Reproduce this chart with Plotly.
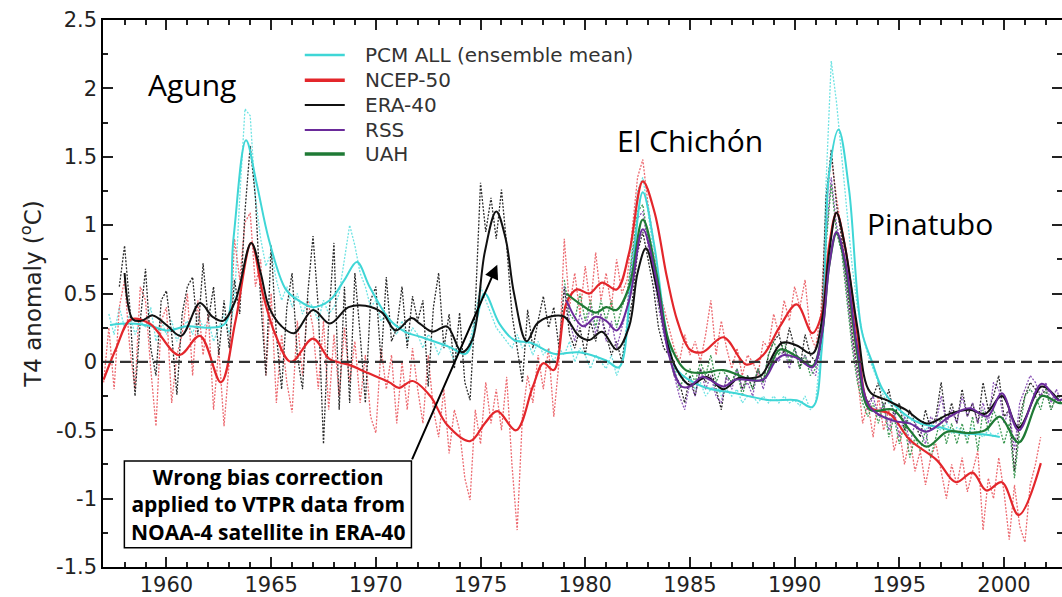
import numpy as np
import plotly.graph_objects as go

# ---------------- data ----------------
# quarterly "raw" series (dotted); time index = start year + quarter steps
era_raw_start = 1957.75
era_raw = [0.55,
    0.85, 0.40, -0.25, 0.30,   0.68, 0.10, -0.10, 0.45,   0.52, 0.20, -0.24, 0.35,
    0.55, 0.62, 0.20, 0.72,    0.30, 0.55, 0.05, 0.45,    0.10, 0.60, 0.35, 1.10,
    1.58, 1.20, 0.45, -0.10,   0.85, 0.20, -0.20, 0.40,   0.65, 0.05, -0.20, 0.50,
    0.92, 0.40, -0.60, 0.30,   0.87, -0.35, 0.55, -0.30,  0.65, 0.20, -0.30, 0.45,
    0.55, 0.00, 0.62, 0.15,    0.25, 0.55, 0.10, 0.48,    0.30, 0.45, -0.18, 0.40,
    0.65, 0.10, 0.35, -0.05,   0.36, -0.15, -0.28, 0.40,  1.31, 0.95, 1.20, 0.90,
    1.26, 0.85, 0.35, 0.10,    -0.15, 0.38, 0.10, 0.30,   0.48, 0.25, 0.40, 0.10,
    0.55, 0.20, 0.10, 0.25,    0.05, 0.30, 0.15, 0.35,    0.20, 0.05, 0.15, 0.00,
    0.25, 0.45, 0.80, 0.95,    0.75, 0.55, 0.25, 0.10,    0.05, -0.10, -0.15, -0.30,
    -0.10, -0.25, -0.05, -0.15, -0.05, -0.20, -0.35, -0.10, -0.15, -0.05, -0.20, -0.10,
    -0.20, -0.05, -0.15, 0.05, 0.15, 0.20, 0.05, 0.25,    0.10, -0.05, 0.20, 0.05,
    0.00, 0.10, 1.20, 1.55,    1.15, 0.90, 0.55, 0.20,    -0.05, -0.20, -0.30, -0.25,
    -0.15, -0.35, -0.20, -0.40, -0.30, -0.50, -0.35, -0.45, -0.55, -0.35, -0.50, -0.40,
    -0.15, -0.45, -0.30, -0.45, -0.20, -0.40, -0.30, -0.45, -0.15, -0.35, -0.25, -0.10,
    -0.40, -0.35, -0.80, -0.40, -0.25, -0.15, -0.20, -0.25, -0.20, -0.35, -0.25]

ncep_raw_start = 1957.0
ncep_raw = [
    -0.15, 0.25, -0.20, 0.40,  0.60, 0.10, -0.20, 0.55,   0.45, -0.05, -0.47, 0.30,
    0.40, -0.30, 0.05, 0.20,   0.50, -0.10, 0.45, 0.05,   0.35, -0.35, 0.10, -0.47,
    0.00, 0.90, 0.60, 1.02,    1.09, 0.55, 0.75, -0.10,   0.50, -0.30, 0.20, -0.15,
    -0.37, 0.30, -0.10, 0.45,  0.25, -0.20, 0.30, -0.35,  0.20, -0.25, 0.25, -0.15,
    0.15, -0.30, 0.05, -0.40,  -0.52, 0.10, -0.20, 0.05,  -0.45, 0.00, -0.35, 0.10,
    -0.20, -0.45, 0.05, -0.35, -0.55, -0.20, -0.67, -0.35, -0.50, -0.85, -1.01, -0.35,
    -0.60, -0.15, -0.45, -0.20, -0.50, -0.11, -0.75, -1.23, -0.40, -0.10, -0.30, 0.05,
    -0.20, 0.10, -0.40, 0.00,  0.90, 0.40, 0.65, 0.35,    0.70, 0.40, 0.80, 0.45,
    0.65, 0.40, 0.75, 0.50,    0.60, 1.00, 1.35, 1.48,    1.15, 0.90, 0.55, 0.40,
    0.25, 0.10, 0.00, 0.20,    0.05, 0.15, 0.00, 0.20,    0.45, 0.05, 0.30, 0.10,
    -0.05, 0.10, -0.10, 0.05,  0.00, -0.10, 0.15, 0.10,   0.35, 0.20, 0.45, 0.30,
    0.55, 0.40, 0.60, 0.20,    0.10, 0.35, 1.10, 1.50,    1.20, 0.95, 0.60, 0.20,
    -0.10, -0.45, -0.30, -0.55, -0.25, -0.50, -0.35, -0.65, -0.50, -0.75, -0.55, -0.80,
    -0.65, -0.90, -0.70, -0.60, -0.80, -1.00, -0.75, -0.90, -0.70, -0.95, -0.80, -0.65,
    -1.23, -0.85, -1.00, -0.70, -0.95, -1.30, -0.90, -1.20, -1.32, -0.90, -0.75, -0.55]

pcm_raw_start = 1957.25
pcm_raw = [0.35, 0.20, 0.40,
    0.25, 0.35, 0.20, 0.30,    0.25, 0.40, 0.15, 0.30,    0.20, 0.30, 0.15, 0.25,
    0.30, 0.20, 0.35, 0.25,    0.30, 0.15, 0.25, 0.35,    0.20, 0.45, 1.20, 1.85,
    1.80, 1.20, 0.90, 0.70,    0.80, 0.60, 0.45, 0.55,    0.40, 0.50, 0.35, 0.45,
    0.40, 0.30, 0.45, 0.35,    0.40, 0.50, 0.75, 1.00,    0.85, 0.65, 0.55, 0.40,
    0.45, 0.30, 0.35, 0.25,    0.20, 0.30, 0.15, 0.25,    0.20, 0.10, 0.20, 0.15,
    0.05, 0.15, 0.10, 0.00,    0.10, 0.05, 0.15, 0.35,    0.55, 0.45, 0.35, 0.25,
    0.20, 0.15, 0.10, 0.20,    0.10, 0.15, 0.05, 0.15,    0.05, 0.10, 0.00, 0.10,
    0.05, 0.15, 0.00, 0.10,    0.05, -0.05, 0.05, 0.00,   -0.05, 0.05, -0.10, 0.00,
    0.30, 0.90, 1.25, 1.35,    1.10, 0.80, 0.50, 0.20,    0.10, -0.05, -0.10, -0.15,
    -0.10, -0.20, -0.15, -0.25, -0.20, -0.15, -0.25, -0.20, -0.25, -0.20, -0.30, -0.25,
    -0.25, -0.30, -0.25, -0.30, -0.25, -0.30, -0.25, -0.30, -0.28, -0.32, -0.25, -0.35,
    -0.30, 0.10, 1.30, 2.20,   1.90, 1.50, 1.10, 0.70,    0.40, 0.20, 0.05, -0.05,
    -0.15, -0.25, -0.30, -0.35, -0.35, -0.40, -0.45, -0.40, -0.45, -0.50, -0.45, -0.48,
    -0.50, -0.45, -0.52, -0.48, -0.50, -0.55, -0.48, -0.52, -0.55, -0.50, -0.55, -0.52]

rss_raw_start = 1979.0
rss_raw = [
    0.55, 0.30, 0.15, 0.35,    0.25, 0.40, 0.20, 0.35,    0.15, 0.30, 0.10, 0.25,
    0.40, 0.75, 1.05, 1.10,    0.85, 0.65, 0.40, 0.20,    0.05, -0.10, -0.25, -0.35,
    -0.15, -0.25, -0.05, -0.20, -0.10, -0.25, -0.30, -0.10, -0.20, -0.05, -0.20, -0.15,
    -0.25, -0.05, -0.20, -0.05, 0.05, 0.00, 0.10, -0.05,  0.10, 0.00, 0.05, -0.05,
    -0.10, 0.10, 0.90, 1.35,   1.00, 0.85, 0.50, 0.15,    -0.10, -0.25, -0.35, -0.25,
    -0.40, -0.30, -0.50, -0.35, -0.55, -0.40, -0.60, -0.45, -0.50, -0.60, -0.40, -0.45,
    -0.25, -0.45, -0.35, -0.45, -0.25, -0.40, -0.30, -0.45, -0.30, -0.45, -0.15, -0.20,
    -0.45, -0.35, -0.65, -0.30, -0.20, -0.10, -0.15, -0.25, -0.15, -0.30, -0.20, -0.30]

uah_raw_start = 1979.0
uah_raw = [
    0.60, 0.35, 0.30, 0.50,    0.30, 0.45, 0.25, 0.45,    0.30, 0.45, 0.25, 0.40,
    0.50, 0.80, 1.10, 1.15,    0.90, 0.70, 0.45, 0.25,    0.15, -0.05, -0.20, -0.10,
    -0.05, -0.15, 0.00, -0.10, 0.05, -0.15, -0.05, -0.10, -0.15, -0.05, -0.25, -0.10,
    -0.20, -0.05, -0.15, 0.05, 0.15, 0.05, 0.15, 0.00,    0.10, -0.05, 0.05, -0.10,
    -0.05, 0.15, 0.85, 1.30,   0.95, 0.80, 0.45, 0.10,    -0.15, -0.30, -0.40, -0.30,
    -0.45, -0.30, -0.55, -0.40, -0.60, -0.45, -0.70, -0.55, -0.65, -0.50, -0.70, -0.55,
    -0.40, -0.60, -0.45, -0.60, -0.45, -0.60, -0.40, -0.65, -0.35, -0.50, -0.35, -0.45,
    -0.60, -0.45, -0.85, -0.50, -0.25, -0.20, -0.25, -0.35, -0.20, -0.35, -0.25, -0.30]

# smoothed series (solid)
era_yr = [1958.0, 1958.4, 1958.8, 1959.35, 1960.0, 1960.7, 1961.6, 1962.2, 1962.7, 1963.3,
          1964.05, 1964.5, 1964.9, 1965.5, 1966.1, 1967.0, 1967.8, 1968.7, 1969.5, 1970.3,
          1970.95, 1971.7, 1972.1, 1972.7, 1973.4, 1974.1, 1974.6, 1975.2, 1975.75, 1976.2,
          1976.6, 1977.2, 1977.7, 1978.3, 1979.0, 1979.7, 1980.2, 1980.8, 1981.5, 1982.1,
          1982.5, 1982.9, 1983.4, 1983.9, 1984.35, 1985.0, 1985.8, 1986.6, 1987.3, 1987.9,
          1988.4, 1989.4, 1990.1, 1990.85, 1991.3, 1991.65, 1992.0, 1992.4, 1993.0, 1993.6,
          1994.4, 1995.3, 1996.3, 1997.4, 1998.35, 1999.1, 1999.9, 2000.7, 2001.8, 2002.6]
era_sm = [0.65, 0.31, 0.30, 0.34, 0.27, 0.19, 0.43, 0.33, 0.30, 0.45,
          0.87, 0.65, 0.40, 0.26, 0.21, 0.38, 0.28, 0.40, 0.41, 0.36,
          0.23, 0.32, 0.28, 0.22, 0.26, 0.07, 0.16, 0.80, 1.10, 0.90,
          0.50, 0.15, 0.28, 0.33, 0.33, 0.19, 0.16, 0.22, 0.09, 0.26,
          0.65, 0.83, 0.55, 0.15, -0.05, -0.17, -0.11, -0.20, -0.12, -0.12,
          -0.10, 0.14, 0.12, 0.06, 0.30, 0.80, 1.09, 0.85, 0.25, -0.22,
          -0.28, -0.35, -0.45, -0.38, -0.35, -0.38, -0.25, -0.48, -0.18, -0.28]

ncep_yr = [1957.0, 1957.6, 1958.3, 1959.2, 1960.6, 1961.6, 1962.6, 1963.3, 1964.05, 1964.6,
           1965.2, 1965.95, 1967.0, 1967.8, 1968.7, 1969.6, 1970.65, 1971.1, 1971.75, 1972.6,
           1973.4, 1974.5, 1975.2, 1975.8, 1976.7, 1977.5, 1978.0, 1978.5, 1979.1, 1979.6,
           1980.2, 1980.8, 1981.5, 1982.1, 1982.75, 1983.3, 1983.9, 1984.4, 1985.0, 1985.6,
           1986.6, 1987.7, 1988.5, 1989.3, 1990.1, 1990.85, 1991.3, 1991.65, 1992.0, 1992.4,
           1993.0, 1993.6, 1994.55, 1995.5, 1996.8, 1997.7, 1998.5, 1999.15, 1999.9, 2000.7,
           2001.76]
ncep_sm = [-0.13, 0.10, 0.31, 0.28, 0.05, 0.19, -0.15, 0.30, 0.87, 0.50,
           0.20, 0.00, 0.17, 0.02, -0.02, -0.08, -0.15, -0.19, -0.14, -0.25,
           -0.46, -0.58, -0.45, -0.36, -0.50, -0.18, -0.01, -0.06, 0.43, 0.53,
           0.50, 0.58, 0.53, 0.80, 1.32, 1.10, 0.62, 0.30, 0.09, 0.07,
           0.18, -0.02, 0.05, 0.26, 0.42, 0.21, 0.35, 0.85, 1.09, 0.85,
           0.20, -0.33, -0.38, -0.57, -0.72, -0.88, -0.81, -0.94, -0.88, -1.12,
           -0.74]

pcm_yr = [1957.3, 1958.3, 1959.3, 1960.0, 1961.0, 1962.0, 1962.8, 1963.2, 1963.8, 1964.3,
          1964.9, 1965.7, 1966.3, 1967.0, 1967.8, 1968.5, 1969.1, 1969.7, 1970.65, 1971.4,
          1972.2, 1973.5, 1974.3, 1974.8, 1975.2, 1975.9, 1976.6, 1977.4, 1978.5, 1979.7,
          1981.0, 1981.6, 1982.2, 1982.75, 1983.3, 1983.9, 1984.4, 1985.6, 1987.2, 1988.8,
          1990.1, 1990.85, 1991.3, 1991.65, 1992.1, 1992.6, 1993.2, 1993.7, 1994.2, 1995.0,
          1996.0, 1997.0, 1997.9, 1999.0, 1999.8]
pcm_sm = [0.27, 0.28, 0.26, 0.23, 0.26, 0.25, 0.28, 0.90, 1.62, 1.31,
          0.89, 0.53, 0.45, 0.40, 0.45, 0.60, 0.73, 0.55, 0.31, 0.22,
          0.18, 0.11, 0.06, 0.30, 0.50, 0.28, 0.16, 0.14, 0.06, 0.07,
          0.01, -0.04, 0.60, 1.24, 0.85, 0.20, -0.06, -0.18, -0.23, -0.28,
          -0.28, -0.33, 0.10, 1.38, 1.70, 1.26, 0.23, 0.00, -0.20, -0.35,
          -0.45, -0.48, -0.52, -0.53, -0.55]

rss_yr = [1979.1, 1979.9, 1980.5, 1981.0, 1981.5, 1982.1, 1982.75, 1983.4, 1984.0, 1984.6,
          1985.0, 1985.6, 1986.6, 1987.2, 1988.5, 1989.1, 1989.5, 1990.1, 1990.85, 1991.3,
          1991.65, 1992.0, 1992.4, 1993.0, 1993.6, 1994.7, 1995.5, 1996.3, 1997.4, 1998.35,
          1999.2, 1999.9, 2000.7, 2001.8, 2002.6, 2003.0]
rss_sm = [0.45, 0.26, 0.33, 0.30, 0.23, 0.45, 0.97, 0.60, 0.05, -0.18,
          -0.18, -0.11, -0.18, -0.13, -0.13, 0.01, 0.05, 0.03, -0.04, 0.20,
          0.70, 0.95, 0.75, 0.10, -0.33, -0.43, -0.45, -0.51, -0.40, -0.34,
          -0.40, -0.23, -0.50, -0.16, -0.28, -0.25]

uah_yr = [1979.1, 1979.7, 1980.5, 1981.0, 1981.5, 1982.1, 1982.75, 1983.4, 1984.0, 1984.8,
          1985.6, 1986.6, 1987.9, 1988.5, 1989.3, 1990.1, 1990.85, 1991.3, 1991.65, 1992.0,
          1992.4, 1993.0, 1993.6, 1994.7, 1995.5, 1996.3, 1997.3, 1998.35, 1999.1, 1999.8,
          2000.7, 2001.8, 2002.6, 2003.0]
uah_sm = [0.50, 0.43, 0.36, 0.40, 0.38, 0.55, 1.04, 0.65, 0.15, -0.06,
          -0.08, -0.06, -0.13, -0.13, 0.09, 0.04, -0.03, 0.20, 0.70, 0.94,
          0.72, 0.05, -0.35, -0.35, -0.50, -0.62, -0.51, -0.52, -0.50, -0.40,
          -0.59, -0.25, -0.30, -0.30]

series_names = ["PCM ALL (ensemble mean)", "NCEP-50", "ERA-40", "RSS", "UAH"]
y_tickvals = [-1.5, -1, -0.5, 0, 0.5, 1, 1.5, 2, 2.5]
y_ticktext = ["-1.5", "-1", "-0.5", "0", "0.5", "1", "1.5", "2", "2.5"]
volcanoes = ["Agung", "El Chichón", "Pinatubo"]
volcano_x = [1961.21, 1985.0, 1996.47]
volcano_y = [2.03, 1.62, 1.013]
note_text = ("Wrong bias correction<br>applied to VTPR data from<br>"
             "NOAA-4 satellite in ERA-40")

# ---------------- styling ----------------
colors = {"pcm": "#3fd6d6", "ncep": "#e3262b", "era": "#111111", "rss": "#6a2a9a", "uah": "#1f7a35"}
raw_colors = {"pcm": "#6fe3e3", "ncep": "#ec6a70", "era": "#2a2a2a", "rss": "#8a55b5", "uah": "#3f9a55"}

def qtimes(start, vals):
    return start + 0.25 * np.arange(len(vals))

fig = go.Figure()
raw = [("pcm", pcm_raw_start, pcm_raw), ("ncep", ncep_raw_start, ncep_raw),
       ("era", era_raw_start, era_raw), ("rss", rss_raw_start, rss_raw),
       ("uah", uah_raw_start, uah_raw)]
for key, st, vals in raw:
    fig.add_trace(go.Scatter(x=qtimes(st, vals), y=vals, mode="lines", showlegend=False,
                             hoverinfo="skip",
                             line=dict(color=raw_colors[key], width=1.3, dash="2px,1.5px")))

smooth = [("pcm", pcm_yr, pcm_sm, series_names[0], 2.0),
          ("ncep", ncep_yr, ncep_sm, series_names[1], 2.2),
          ("uah", uah_yr, uah_sm, series_names[4], 2.2),
          ("era", era_yr, era_sm, series_names[2], 2.0),
          ("rss", rss_yr, rss_sm, series_names[3], 2.0)]
for key, xs, ys, name, w in smooth:
    fig.add_trace(go.Scatter(x=xs, y=ys, mode="lines", name=name, showlegend=False,
                             line=dict(color=colors[key], width=w, shape="spline", smoothing=1.0)))

# zero line
fig.add_shape(type="line", xref="paper", x0=0, x1=1, yref="y", y0=0, y1=0,
              line=dict(color="#333333", width=2.2, dash="11px,6px"))

# legend (drawn as line samples + labels in paper coordinates)
legend_keys = ["pcm", "ncep", "era", "rss", "uah"]
legend_widths = [2.5, 3.5, 2.0, 2.0, 3.5]
legend_y = [0.936, 0.890, 0.8445, 0.7987, 0.7549]
for key, name, w, ly in zip(legend_keys, series_names, legend_widths, legend_y):
    fig.add_shape(type="line", xref="paper", yref="paper", x0=0.2104, x1=0.2521, y0=ly, y1=ly,
                  line=dict(color=colors[key], width=w))
    fig.add_annotation(xref="paper", yref="paper", x=0.2709, y=ly, text=name, showarrow=False,
                       xanchor="left", yanchor="middle",
                       font=dict(family="DejaVu Sans", size=20, color="#333"))

# volcano labels
for name, vx, vy in zip(volcanoes, volcano_x, volcano_y):
    fig.add_annotation(x=vx, y=vy, text=name, showarrow=False,
                       font=dict(family="Open Sans", size=30, color="black"))

# note box + arrow
fig.add_shape(type="rect", xref="x", yref="y", x0=1957.99, x1=1971.70, y0=-1.36, y1=-0.724,
              line=dict(color="black", width=1.5), fillcolor="white")
fig.add_annotation(x=1964.85, y=-1.045, text="<b>" + note_text + "</b>", showarrow=False,
                   align="center", font=dict(family="Open Sans", size=21, color="black"))
fig.add_annotation(x=1975.8, y=0.71, ax=1971.70, ay=-0.724, axref="x", ayref="y",
                   text="", showarrow=True, arrowhead=2, arrowsize=1.4, arrowwidth=2,
                   arrowcolor="black")

axis_common = dict(showline=True, linecolor="black", linewidth=1.5, mirror="allticks",
                   ticks="inside", tickcolor="#222", tickwidth=1.5, ticklen=10,
                   showgrid=False, zeroline=False, automargin=False,
                   tickfont=dict(family="DejaVu Sans", size=21, color="#222"))

fig.update_xaxes(range=[1956.97, 2002.77], tick0=1960, dtick=5, ticklabelstandoff=-2,
                 minor=dict(dtick=1, ticks="inside", ticklen=5, tickcolor="#222"),
                 **axis_common)
fig.update_yaxes(range=[-1.5, 2.5], tickvals=y_tickvals, ticktext=y_ticktext,
                 minor=dict(dtick=0.25, ticks="inside", ticklen=5, tickcolor="#222"),
                 title=dict(text="T4 anomaly (<sup>o</sup>C)", standoff=8,
                            font=dict(family="DejaVu Sans", size=23, color="#222")),
                 **axis_common)

fig.update_layout(
    width=1062, height=597,
    margin=dict(l=103, r=0, t=20, b=30),
    paper_bgcolor="white", plot_bgcolor="white",
    showlegend=False,
)

fig.write_html("out.html", config={"displayModeBar": False},
               post_script="document.body.style.margin='0px';"
                           "document.body.style.padding='0px';"
                           "document.body.style.overflow='hidden';")
